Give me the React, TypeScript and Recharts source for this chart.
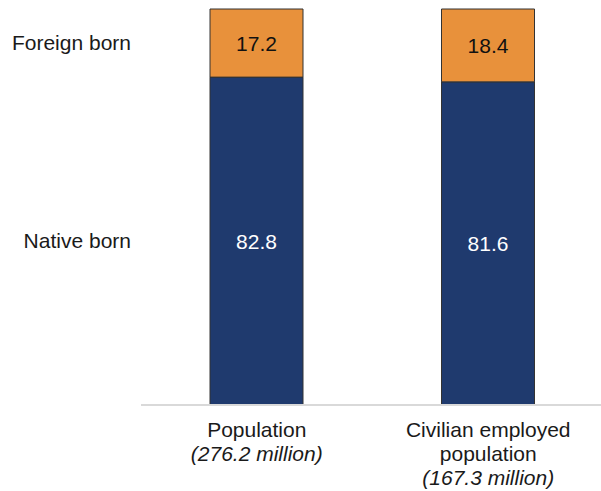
import React from 'react';
import { BarChart, Bar, XAxis, YAxis, LabelList } from 'recharts';

// Share of population by nativity, in percent
const categories = ['Population', 'Civilian employed population'];
const categoryLines = [['Population'], ['Civilian employed', 'population']];
const totals = ['276.2 million', '167.3 million'];
const nativeBorn = [82.8, 81.6];
const foreignBorn = [17.2, 18.4];
const seriesNames = { native: 'Native born', foreign: 'Foreign born' };

const data = categories.map((name, i) => ({
    name,
    lines: categoryLines[i],
    total: totals[i],
    native: nativeBorn[i],
    foreign: foreignBorn[i],
}));

const FONT = '"Liberation Sans", Arial, sans-serif';
const ORANGE = '#E8913B';
const NAVY = '#1F3A6E';

const CategoryTick = (props: any) => {
    const { x, y, index } = props;
    const row = data[index];
    if (!row) return null;
    const lines = row.lines;
    return (
        <g>
            {lines.map((line: string, i: number) => (
                <text key={i} x={x} y={y + 32 + i * 24} textAnchor="middle" fontSize={21} fill="#1a1a1a" fontFamily={FONT}>
                    {line}
                </text>
            ))}
            <text x={x} y={y + 32 + lines.length * 24} textAnchor="middle" fontSize={21} fontStyle="italic" fill="#1a1a1a" fontFamily={FONT}>
                ({row.total})
            </text>
        </g>
    );
};

// series name written to the left of the first bar, beside its segment
const rowLabel = (label: string) => (props: any) => {
    const { x, y, height, index } = props;
    if (index !== 0) return null;
    return (
        <text x={x - 79} y={y + height / 2 + 7} textAnchor="end" fontSize={21} fill="#1a1a1a" fontFamily={FONT}>
            {label}
        </text>
    );
};

export default function App() {
    return (
        <div style={{ position: 'absolute', left: 0, top: 0 }}>
            <BarChart
                width={601}
                height={491}
                data={data}
                margin={{ top: 9, right: -3, left: 141, bottom: 0 }}
            >
                <YAxis hide domain={[0, 100]} />
                <XAxis
                    dataKey="name"
                    height={86}
                    axisLine={{ stroke: '#d9d9d9', strokeWidth: 2 }}
                    tickLine={false}
                    tickSize={0}
                    tickMargin={0}
                    interval={0}
                    tick={<CategoryTick />}
                />
                <Bar dataKey="native" stackId="a" fill={NAVY} stroke="#333333" strokeWidth={1} barSize={93} isAnimationActive={false}>
                    <LabelList dataKey="native" position="center" fill="#ffffff" fontSize={21} fontFamily={FONT} />
                    <LabelList dataKey="native" content={rowLabel(seriesNames.native)} />
                </Bar>
                <Bar dataKey="foreign" stackId="a" fill={ORANGE} stroke="#333333" strokeWidth={1} barSize={93} isAnimationActive={false}>
                    <LabelList dataKey="foreign" position="center" fill="#111111" fontSize={21} fontFamily={FONT} />
                    <LabelList dataKey="foreign" content={rowLabel(seriesNames.foreign)} />
                </Bar>
            </BarChart>
        </div>
    );
}
